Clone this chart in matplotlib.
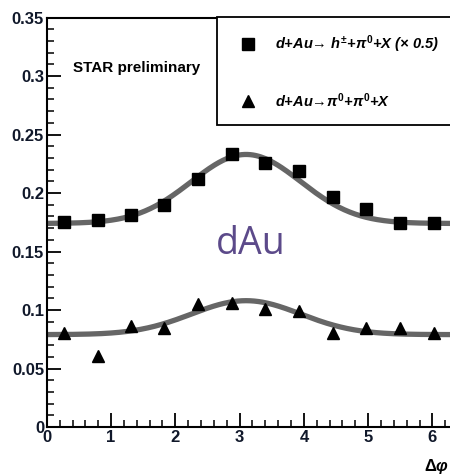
import numpy as np
import matplotlib.pyplot as plt
from matplotlib.patches import Rectangle
from matplotlib.ticker import MultipleLocator, FormatStrFormatter
from matplotlib import font_manager

# bin centres in delta-phi (12 bins over 2 pi)
dphi = [0.26, 0.79, 1.31, 1.83, 2.36, 2.88, 3.40, 3.93, 4.45, 4.97, 5.50, 6.02]

# d+Au -> h +- + pi0 + X (scaled by 0.5)
h_pi0 = [0.175, 0.177, 0.181, 0.190, 0.212, 0.233, 0.226, 0.219, 0.197, 0.186, 0.174, 0.174]
# d+Au -> pi0 + pi0 + X
pi0_pi0 = [0.080, 0.061, 0.086, 0.085, 0.105, 0.106, 0.101, 0.099, 0.080, 0.085, 0.085, 0.080]

# gaussian fits on a flat pedestal: (pedestal, amplitude, centre, width)
fit_h = (0.174, 0.059, 3.10, 0.85)
fit_pi = (0.079, 0.029, 3.10, 0.85)

xticks = [0, 1, 2, 3, 4, 5, 6]
yticks = [0, 0.05, 0.1, 0.15, 0.2, 0.25, 0.3, 0.35]

names = {f.name for f in font_manager.fontManager.ttflist}
narrow = 'Liberation Sans Narrow' if 'Liberation Sans Narrow' in names else 'Liberation Sans'

plt.rcParams['mathtext.fontset'] = 'custom'
plt.rcParams['mathtext.rm'] = narrow + ':bold'
plt.rcParams['mathtext.it'] = narrow + ':bold:italic'
plt.rcParams['mathtext.bf'] = narrow + ':bold'


def fit(x, p):
    b, a, mu, s = p
    return b + a * np.exp(-(x - mu) ** 2 / (2 * s ** 2))


fig = plt.figure(figsize=(4.5, 4.75), dpi=100)
ax = fig.add_axes([0.104, 0.101, 0.907, 0.862])

xs = np.linspace(0, 6.35, 300)
ax.plot(xs, fit(xs, fit_h), color='#666666', lw=3.8, zorder=2)
ax.plot(xs, fit(xs, fit_pi), color='#666666', lw=3.8, zorder=2)
ax.plot(dphi, h_pi0, 's', color='black', ms=8.5, zorder=3)
ax.plot(dphi, pi0_pi0, '^', color='black', ms=9, zorder=3)

ax.set_xlim(0, 6.35)
ax.set_ylim(0, 0.35)
ax.set_xticks(xticks)
ax.set_yticks(yticks)
ax.xaxis.set_minor_locator(MultipleLocator(0.2))
ax.yaxis.set_minor_locator(MultipleLocator(0.01))
ax.yaxis.set_major_formatter(FormatStrFormatter('%g'))
ax.tick_params(which='major', direction='in', length=10, width=1.3,
               top=False, right=False, pad=2)
ax.tick_params(which='minor', direction='in', length=5, width=1.1,
               top=False, right=False)
for lab in ax.get_xticklabels() + ax.get_yticklabels():
    lab.set_family(narrow)
    lab.set_fontweight('bold')
    lab.set_fontsize(12)
    lab.set_color('#10182a')
for sp in ax.spines.values():
    sp.set_linewidth(1.5)
ax.spines['right'].set_visible(False)

ax.text(0.41, 0.307, 'STAR preliminary', family=narrow, fontweight='bold',
        fontsize=11, va='center', ha='left')
ax.text(3.17, 0.148, 'dAu', family='Open Sans', fontsize=27, color='#5c4a8a',
        ha='center', va='baseline')
fig.text(449 / 450, 1 - 466 / 475, r'$\Delta\varphi$', fontsize=12,
         ha='right', va='center')

# legend pad hanging from the top frame
fig.patches.append(Rectangle((217 / 450, 1 - 125 / 475), 0.6, 108 / 475,
                             transform=fig.transFigure, facecolor='white',
                             edgecolor='black', lw=1.3, zorder=5))
fig.lines.append(plt.Line2D([248 / 450], [1 - 44 / 475], marker='s', ms=8.5,
                            color='black', transform=fig.transFigure, zorder=6))
fig.lines.append(plt.Line2D([248 / 450], [1 - 101 / 475], marker='^', ms=8.5,
                            color='black', transform=fig.transFigure, zorder=6))
fig.text(275 / 450, 1 - 44 / 475,
         r'$d$+$Au$→ $h^{\pm}$+$\pi^{0}$+$X$ (× 0.5)',
         family=narrow, fontweight='bold', style='italic', fontsize=10.5,
         va='center', ha='left', zorder=7)
fig.text(275 / 450, 1 - 101 / 475,
         r'$d$+$Au$→$\pi^{0}$+$\pi^{0}$+$X$',
         family=narrow, fontweight='bold', style='italic', fontsize=10.5,
         va='center', ha='left', zorder=7)

fig.savefig('out.png', dpi=100)
